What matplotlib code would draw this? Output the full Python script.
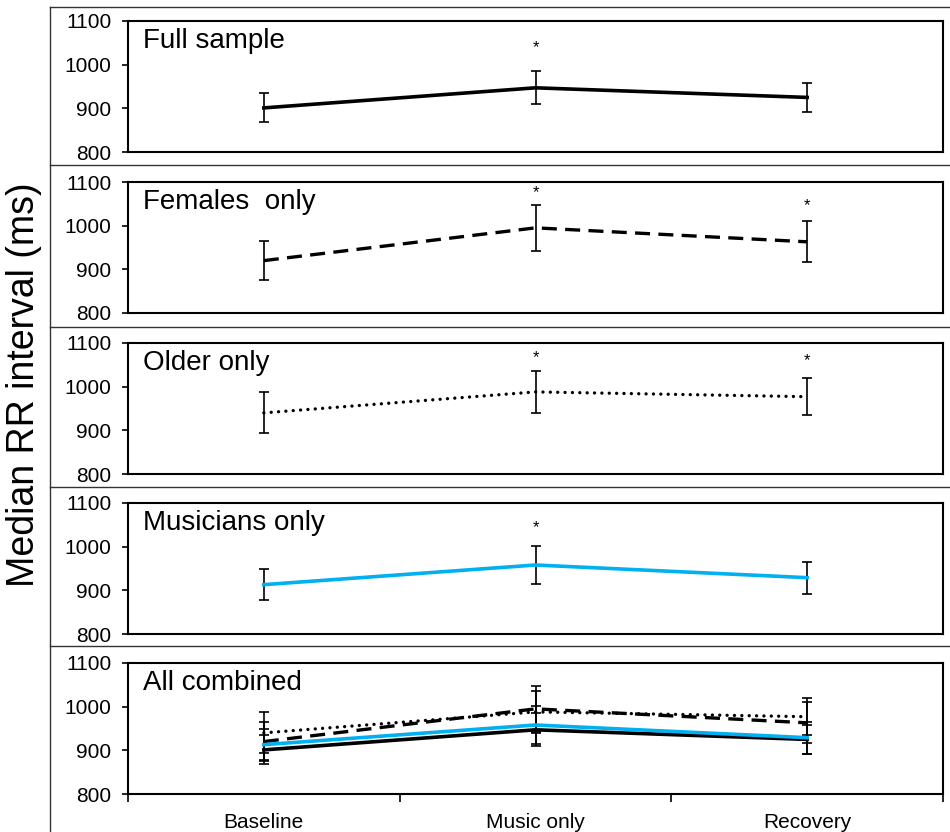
import matplotlib
matplotlib.use("Agg")
import matplotlib.pyplot as plt
from matplotlib.lines import Line2D

plt.rcParams['font.family'] = ['Liberation Sans', 'DejaVu Sans']

conditions = ['Baseline', 'Music only', 'Recovery']

full_mean = [901, 947, 925]
full_err = [33, 38, 33]
full_star = [None, 1038, None]

fem_mean = [920, 995, 963]
fem_err = [45, 52, 47]
fem_star = [None, 1075, 1045]

old_mean = [940, 988, 977]
old_err = [47, 48, 43]
old_star = [None, 1066, 1059]

mus_mean = [913, 958, 929]
mus_err = [35, 43, 37]
mus_star = [None, 1043, None]

blue = '#00B0F0'
styles = {
    'full': dict(color='black', lw=2.6, ls='-'),
    'fem': dict(color='black', lw=2.4, ls=(0, (4.5, 2.5))),
    'old': dict(color='black', lw=2.4, ls=(0, (0.01, 2.2)), dash_capstyle='round'),
    'mus': dict(color=blue, lw=2.6, ls='-'),
}

W, H = 950, 832
fig = plt.figure(figsize=(W / 100, H / 100), dpi=100)

x = [0.5, 1.5, 2.5]
tops = [21, 182, 343, 503, 663]
ax_h = 131
left_px, right_px = 128, 943

def draw(ax, mean, err, st):
    ax.errorbar(x, mean, yerr=err, ecolor='black', elinewidth=1.2, capsize=3.5,
                capthick=1.2, **st)

panels = [
    ('Full sample', [(full_mean, full_err, 'full')], full_star),
    ('Females  only', [(fem_mean, fem_err, 'fem')], fem_star),
    ('Older only', [(old_mean, old_err, 'old')], old_star),
    ('Musicians only', [(mus_mean, mus_err, 'mus')], mus_star),
    ('All combined', [(full_mean, full_err, 'full'), (fem_mean, fem_err, 'fem'),
                      (old_mean, old_err, 'old'), (mus_mean, mus_err, 'mus')], None),
]

for i, (title, series, stars) in enumerate(panels):
    top = tops[i]
    ax = fig.add_axes([left_px / W, 1 - (top + ax_h) / H,
                       (right_px - left_px) / W, ax_h / H])
    for mean, err, key in series:
        draw(ax, mean, err, styles[key])
    if stars:
        for xi, s in zip(x, stars):
            if s is not None:
                ax.text(xi, s, '*', ha='center', va='center', fontsize=12)
    ax.set_xlim(0, 3)
    ax.set_ylim(800, 1100)
    ax.set_yticks([800, 900, 1000, 1100])
    ax.tick_params(axis='y', labelsize=15, length=4, width=1.2, direction='out', pad=8)
    for sp in ax.spines.values():
        sp.set_linewidth(1.5)
    ax.text(0.018, 0.95, title, transform=ax.transAxes, ha='left', va='top', fontsize=20)
    if i < 4:
        ax.set_xticks([])
    else:
        ax.set_xticks([0, 1, 2, 3])
        ax.set_xticklabels([])
        ax.set_xticks(x, minor=True)
        ax.set_xticklabels(conditions, minor=True)
        ax.tick_params(axis='x', which='major', length=6, width=1.2, direction='out')
        ax.tick_params(axis='x', which='minor', length=0, labelsize=15, pad=14)

# panel separators
for yp in [7, 165, 327, 487, 646]:
    fig.add_artist(Line2D([50 / W, 1], [1 - yp / H, 1 - yp / H], color='#333333', lw=1.0))
fig.add_artist(Line2D([50 / W, 50 / W], [1 - 7 / H, 0], color='#333333', lw=1.0))

fig.text(24 / W, 1 - 385 / H, 'Median RR interval (ms)', rotation=90,
         ha='center', va='center', fontsize=27)

fig.savefig('out.png', dpi=100)
